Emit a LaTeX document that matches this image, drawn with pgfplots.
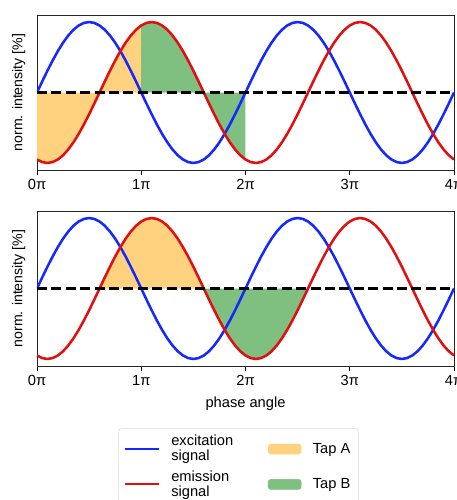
\documentclass[border=0pt]{standalone}
\usepackage{fontspec}
\setmainfont{Liberation Sans}
\usepackage{pgfplots}
\pgfplotsset{compat=1.18}
\usepackage{pgfplotstable}
\usepgfplotslibrary{fillbetween}
\definecolor{cblue}{RGB}{20,40,255}
\definecolor{cred}{RGB}{225,15,15}
\definecolor{corange}{RGB}{255,210,127}
\definecolor{cgreen}{RGB}{127,191,127}

\pgfplotstableread{
x b r
0.00 0 -0.9511
0.05 0.1564 -0.9877
0.10 0.3090 -1
0.15 0.4540 -0.9877
0.20 0.5878 -0.9511
0.25 0.7071 -0.8910
0.30 0.8090 -0.8090
0.35 0.8910 -0.7071
0.40 0.9511 -0.5878
0.45 0.9877 -0.4540
0.50 1 -0.3090
0.55 0.9877 -0.1564
0.60 0.9511 0
0.65 0.8910 0.1564
0.70 0.8090 0.3090
0.75 0.7071 0.4540
0.80 0.5878 0.5878
0.85 0.4540 0.7071
0.90 0.3090 0.8090
0.95 0.1564 0.8910
1.00 0 0.9511
1.05 -0.1564 0.9877
1.10 -0.3090 1
1.15 -0.4540 0.9877
1.20 -0.5878 0.9511
1.25 -0.7071 0.8910
1.30 -0.8090 0.8090
1.35 -0.8910 0.7071
1.40 -0.9511 0.5878
1.45 -0.9877 0.4540
1.50 -1 0.3090
1.55 -0.9877 0.1564
1.60 -0.9511 0
1.65 -0.8910 -0.1564
1.70 -0.8090 -0.3090
1.75 -0.7071 -0.4540
1.80 -0.5878 -0.5878
1.85 -0.4540 -0.7071
1.90 -0.3090 -0.8090
1.95 -0.1564 -0.8910
2.00 0 -0.9511
2.05 0.1564 -0.9877
2.10 0.3090 -1
2.15 0.4540 -0.9877
2.20 0.5878 -0.9511
2.25 0.7071 -0.8910
2.30 0.8090 -0.8090
2.35 0.8910 -0.7071
2.40 0.9511 -0.5878
2.45 0.9877 -0.4540
2.50 1 -0.3090
2.55 0.9877 -0.1564
2.60 0.9511 0
2.65 0.8910 0.1564
2.70 0.8090 0.3090
2.75 0.7071 0.4540
2.80 0.5878 0.5878
2.85 0.4540 0.7071
2.90 0.3090 0.8090
2.95 0.1564 0.8910
3.00 0 0.9511
3.05 -0.1564 0.9877
3.10 -0.3090 1
3.15 -0.4540 0.9877
3.20 -0.5878 0.9511
3.25 -0.7071 0.8910
3.30 -0.8090 0.8090
3.35 -0.8910 0.7071
3.40 -0.9511 0.5878
3.45 -0.9877 0.4540
3.50 -1 0.3090
3.55 -0.9877 0.1564
3.60 -0.9511 0
3.65 -0.8910 -0.1564
3.70 -0.8090 -0.3090
3.75 -0.7071 -0.4540
3.80 -0.5878 -0.5878
3.85 -0.4540 -0.7071
3.90 -0.3090 -0.8090
3.95 -0.1564 -0.8910
4.00 0 -0.9511
}\sig

\pgfplotsset{
  base/.style={
    width=312.75pt, height=116.25pt, scale only axis,
    xmin=0, xmax=4, ymin=-1.1, ymax=1.1,
    xtick={0,1,2,3,4}, xticklabels={0π,1π,2π,3π,4π},
    ytick=\empty,
    tick align=outside, xtick pos=left,
    major tick length=3.75pt,
    tick style={black, line width=0.7pt},
    axis line style={line width=0.7pt, black!85},
    font=\fontsize{11}{13.5}\selectfont,
    ylabel={norm. intensity [\%]},
    ylabel style={at={(axis description cs:-0.017,0.5)}, anchor=south, font=\fontsize{10.6}{12}\selectfont},
  },
  curve/.style={line width=1.9pt, forget plot},
  lineleg/.style={legend image code/.code={\draw[##1] (0pt,0pt) -- (25.5pt,0pt);}},
  patchleg/.style={legend image code/.code={\fill[##1] (0pt,-3.75pt) rectangle (24.75pt,3.75pt);}},
}

\begin{document}
\begin{tikzpicture}
\begin{axis}[base, name=top, at={(0,0)}, anchor=north west]
  \addplot[draw=none, name path=R, forget plot] table[x=x,y=r]{\sig};
  \addplot[draw=none, name path=Z, forget plot] coordinates {(0,0) (4,0)};
  \addplot[fill=corange, draw=none, forget plot] fill between[of=R and Z, soft clip={domain=0:1}];
  \addplot[fill=cgreen, draw=none, forget plot] fill between[of=R and Z, soft clip={domain=1:2}];
  \addplot[curve, cblue] table[x=x,y=b]{\sig};
  \addplot[curve, cred] table[x=x,y=r]{\sig};
  \addplot[black, line width=1.8pt, dash pattern=on 7.5pt off 3.3pt, forget plot] coordinates {(0,0) (4,0)};
\end{axis}
\begin{axis}[base, name=bot, at={(0,-147pt)}, anchor=north west,
  xlabel={phase angle},
  xlabel style={yshift=-1.5pt},
  legend columns=2,
  legend cell align=left,
  legend style={at={(axis description cs:0.4832,-0.4026)}, anchor=north,
    draw=black!15, rounded corners=2pt, font=\fontsize{11}{13.5}\selectfont,
    inner xsep=4pt, inner ysep=3pt, row sep=2pt,
    /tikz/every odd column/.append style={column sep=6.5pt},
    /tikz/every even column/.append style={column sep=24pt}},
  ]
  \addplot[draw=none, name path=R, forget plot] table[x=x,y=r]{\sig};
  \addplot[draw=none, name path=Z, forget plot] coordinates {(0,0) (4,0)};
  \addplot[fill=corange, draw=none, forget plot] fill between[of=R and Z, soft clip={domain=0.6:1.6}];
  \addplot[fill=cgreen, draw=none, forget plot] fill between[of=R and Z, soft clip={domain=1.6:2.6}];
  \addplot[curve, cblue] table[x=x,y=b]{\sig};
  \addplot[curve, cred] table[x=x,y=r]{\sig};
  \addplot[black, line width=1.8pt, dash pattern=on 7.5pt off 3.3pt, forget plot] coordinates {(0,0) (4,0)};
  \addlegendimage{cblue, line width=1.5pt, lineleg}
  \addlegendentry{\shortstack[l]{excitation\\signal}}
  \addlegendimage{corange, patchleg}
  \addlegendentry{Tap A}
  \addlegendimage{cred, line width=1.5pt, lineleg}
  \addlegendentry{\shortstack[l]{emission\\signal}}
  \addlegendimage{cgreen, patchleg}
  \addlegendentry{Tap B}
\end{axis}
\pgfresetboundingbox
\useasboundingbox ([shift={(-27.75pt,11.25pt)}]top.north west) rectangle ([shift={(315pt,-363.75pt)}]top.north west);
\end{tikzpicture}
\end{document}
